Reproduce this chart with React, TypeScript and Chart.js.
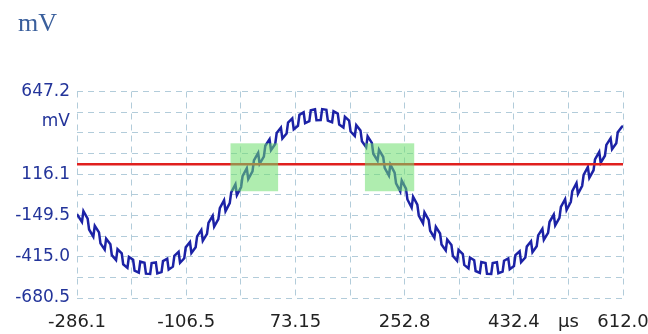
import React, { useEffect, useRef } from "react";
import { Chart, registerables } from "chart.js";

Chart.register(...registerables);

// Time axis (µs) of the sampled trace (ripple edges are sampled just before and just after)
const timeUs = [
  -286.1,
  -277.95, -275.55, -268.6, -266.2, -259.25, -256.85, -249.9, -247.5, -240.55, -238.15,
  -231.2, -228.8, -221.85, -219.45, -212.5, -210.1, -203.15, -200.75, -193.8, -191.4,
  -184.45, -182.05, -175.1, -172.7, -165.75, -163.35, -156.4, -154.0, -147.05, -144.65,
  -137.7, -135.3, -128.35, -125.95, -119.0, -116.6, -109.65, -107.25, -100.3, -97.9,
  -90.95, -88.55, -81.6, -79.2, -72.25, -69.85, -62.9, -60.5, -53.55, -51.15,
  -44.2, -41.8, -34.85, -32.45, -25.5, -23.1, -16.15, -13.75, -6.8, -4.4,
  2.55, 4.95, 11.9, 14.3, 21.25, 23.65, 30.6, 33.0, 39.95, 42.35,
  49.3, 51.7, 58.65, 61.05, 68.0, 70.4, 77.35, 79.75, 86.7, 89.1,
  96.05, 98.45, 105.4, 107.8, 114.75, 117.15, 124.1, 126.5, 133.45, 135.85,
  142.8, 145.2, 152.15, 154.55, 161.5, 163.9, 170.85, 173.25, 180.2, 182.6,
  189.55, 191.95, 198.9, 201.3, 208.25, 210.65, 217.6, 220.0, 226.95, 229.35,
  236.3, 238.7, 245.65, 248.05, 255.0, 257.4, 264.35, 266.75, 273.7, 276.1,
  283.05, 285.45, 292.4, 294.8, 301.75, 304.15, 311.1, 313.5, 320.45, 322.85,
  329.8, 332.2, 339.15, 341.55, 348.5, 350.9, 357.85, 360.25, 367.2, 369.6,
  376.55, 378.95, 385.9, 388.3, 395.25, 397.65, 404.6, 407.0, 413.95, 416.35,
  423.3, 425.7, 432.65, 435.05, 442.0, 444.4, 451.35, 453.75, 460.7, 463.1,
  470.05, 472.45, 479.4, 481.8, 488.75, 491.15, 498.1, 500.5, 507.45, 509.85,
  516.8, 519.2, 526.15, 528.55, 535.5, 537.9, 544.85, 547.25, 554.2, 556.6,
  563.55, 565.95, 572.9, 575.3, 582.25, 584.65, 591.6, 594.0, 600.95, 603.35,
  610.3, 612.0,
];

// Signal (mV)
const signalMv = [
  -142,
  -192, -122, -170, -240, -286, -216, -259, -329, -369, -299,
  -335, -405, -437, -367, -394, -464, -487, -417, -435, -505,
  -517, -447, -454, -524, -526, -456, -452, -522, -513, -443,
  -428, -498, -479, -409, -384, -454, -425, -355, -321, -391,
  -354, -284, -243, -313, -268, -198, -152, -222, -173, -103,
  -52, -122, -71, -1, 51, -19, 33, 103, 154, 84,
  134, 204, 252, 182, 228, 298, 340, 270, 310, 380,
  415, 345, 377, 447, 474, 404, 427, 497, 514, 444,
  456, 526, 533, 463, 464, 534, 530, 460, 450, 520,
  505, 435, 415, 485, 460, 390, 361, 431, 397, 327,
  289, 359, 317, 247, 203, 273, 226, 156, 107, 177,
  126, 56, 5, 75, 23, -47, -99, -29, -80, -150,
  -200, -130, -178, -248, -293, -223, -266, -336, -375, -305,
  -340, -410, -441, -371, -398, -468, -490, -420, -437, -507,
  -519, -449, -455, -525, -526, -456, -451, -521, -511, -441,
  -426, -496, -475, -405, -380, -450, -420, -350, -316, -386,
  -348, -278, -236, -306, -262, -192, -144, -214, -165, -95,
  -45, -115, -63, 7, 59, -11, 41, 111, 162, 92,
  141, 211, 259, 189, 234, 304, 346, 276, 315, 385,
  421, 425,
];

const thresholdMv = 180;

// Highlight windows
const boxStartUs = [-33.6, 187.5];
const boxEndUs = [44.7, 268.6];
const boxLowMv = [6, 6];
const boxHighMv = [314, 314];

// Axis ticks
const xMin = -286.1;
const xMax = 612.0;
const xTickValues = [-286.1, -196.3, -106.5, -16.68, 73.15, 162.97, 252.8, 342.6, 432.4, 522.2, 612.0];
const xTickLabels = ["-286.1", "", "-106.5", "", "73.15", "", "252.8", "", "432.4", "µs", "612.0"];

const yMin = -680.5;
const yMax = 647.2;
const yUnitTick = 453;
const yTickValues = [-680.5, -547.75, -415.0, -282.25, -149.5, -16.75, 116.1, 248.85, 381.6, 453, 514.45, 647.2];
const yTickLabels = ["-680.5", "", "-415.0", "", "-149.5", "", "116.1", "", "", "mV", "", "647.2"];

const GRID = "rgb(178,204,218)";

const boxPlugin = {
  id: "boxes",
  afterDatasetsDraw(chart: any) {
    const { ctx } = chart;
    const xs = chart.scales.x;
    const ys = chart.scales.y;
    ctx.save();
    ctx.fillStyle = "rgba(110,222,110,0.55)";
    boxStartUs.forEach((s, i) => {
      const x1 = xs.getPixelForValue(s);
      const x2 = xs.getPixelForValue(boxEndUs[i]);
      const y1 = ys.getPixelForValue(boxHighMv[i]);
      const y2 = ys.getPixelForValue(boxLowMv[i]);
      ctx.fillRect(x1, y1, x2 - x1, y2 - y1);
    });
    ctx.restore();
  },
};

export default function App() {
  const ref = useRef<HTMLCanvasElement | null>(null);

  useEffect(() => {
    if (!ref.current) return;
    const chart = new Chart(ref.current, {
      type: "line",
      data: {
        datasets: [
          {
            data: timeUs.map((t, i) => ({ x: t, y: signalMv[i] })),
            borderColor: "#1c22a6",
            borderWidth: 2.5,
            pointRadius: 0,
            tension: 0,
            order: 2,
          },
          {
            data: [
              { x: xMin, y: thresholdMv },
              { x: xMax, y: thresholdMv },
            ],
            borderColor: "#e0201e",
            borderWidth: 2.5,
            pointRadius: 0,
            order: 1,
          },
        ],
      },
      options: {
        animation: false,
        responsive: false,
        devicePixelRatio: 1,
        layout: { padding: { top: 91.5, right: 25, left: 0, bottom: 0 } },
        plugins: { legend: { display: false }, tooltip: { enabled: false }, title: { display: false } },
        scales: {
          x: {
            type: "linear",
            min: xMin,
            max: xMax,
            afterBuildTicks: (scale: any) => {
              scale.ticks = xTickValues.map((v) => ({ value: v }));
            },
            afterFit: (scale: any) => {
              scale.height = 36;
              scale.paddingLeft = 0;
              scale.paddingRight = 0;
            },
            ticks: {
              autoSkip: false,
              maxRotation: 0,
              padding: 14,
              color: "#222222",
              font: { family: "DejaVu Sans", size: 18 },
              callback: (_v: any, i: number) => xTickLabels[i],
            },
            grid: { color: GRID, lineWidth: 1, drawTicks: false },
            border: { display: false, dash: [6, 5] },
          },
          y: {
            type: "linear",
            min: yMin,
            max: yMax,
            afterBuildTicks: (scale: any) => {
              scale.ticks = yTickValues.map((v) => ({ value: v }));
            },
            afterFit: (scale: any) => {
              scale.width = 77;
              scale.paddingTop = 0;
              scale.paddingBottom = 0;
            },
            ticks: {
              autoSkip: false,
              padding: 7,
              color: "#23349a",
              font: { family: "DejaVu Sans", size: 17 },
              callback: (_v: any, i: number) => yTickLabels[i],
            },
            grid: {
              color: (ctx: any) => (ctx.tick && ctx.tick.value === yUnitTick ? "rgba(0,0,0,0)" : GRID),
              lineWidth: 1,
              drawTicks: false,
            },
            border: { display: false, dash: [6, 5] },
          },
        },
      },
      plugins: [boxPlugin],
    } as any);
    return () => chart.destroy();
  }, []);

  return (
    <div style={{ position: "fixed", left: 0, top: 0, width: 648, height: 334, background: "#ffffff" }}>
      <canvas ref={ref} width={648} height={334} style={{ position: "absolute", left: 0, top: 0, display: "block" }} />
      <div
        style={{
          position: "absolute",
          left: 18,
          top: 10,
          fontFamily: '"Liberation Serif", serif',
          fontSize: 26,
          lineHeight: "26px",
          color: "#3a5f9c",
        }}
      >
        mV
      </div>
    </div>
  );
}
